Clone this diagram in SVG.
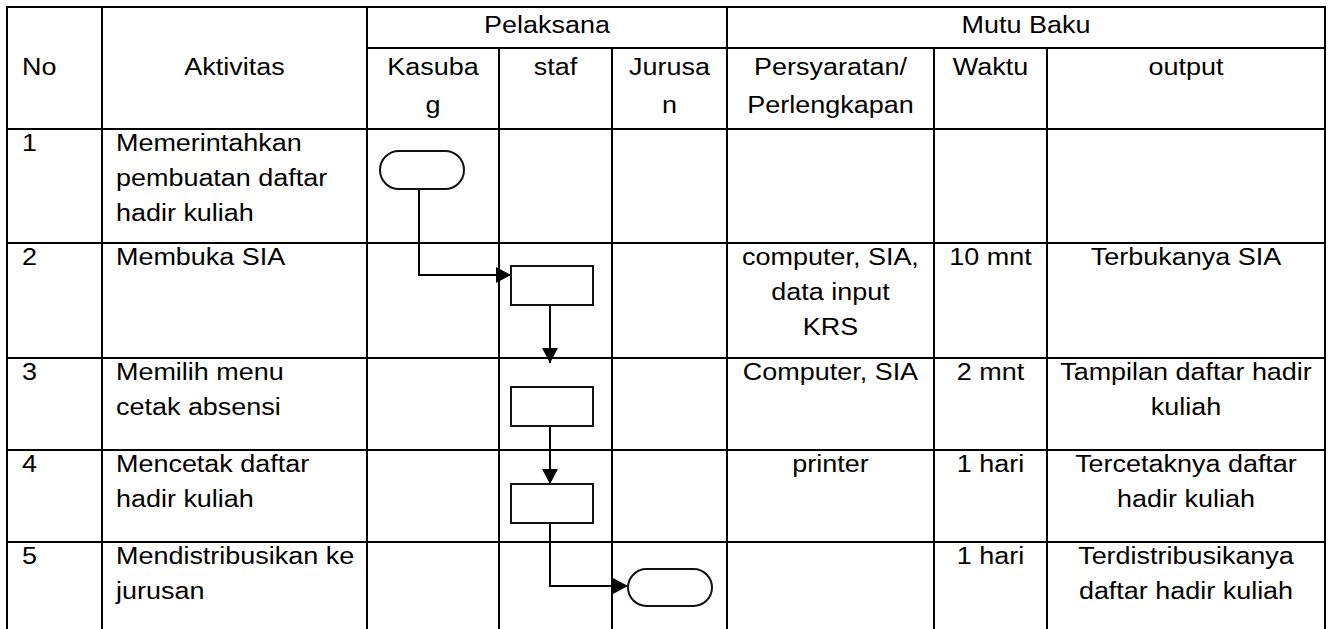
<svg xmlns="http://www.w3.org/2000/svg" width="1332" height="629" viewBox="0 0 1332 629">
<style>
.grid{stroke:#000;stroke-width:2;fill:none}
.t{font-family:"Liberation Sans",Arial,sans-serif;font-size:24.5px;fill:#000}
.c{text-anchor:middle}
.shape{fill:#fff;stroke:#111;stroke-width:2}
.conn{fill:none;stroke:#000;stroke-width:2}
</style>
<defs>
<marker id="ah" markerUnits="userSpaceOnUse" markerWidth="16" markerHeight="16" refX="15" refY="8" orient="auto">
<path d="M0,0 L15,8 L0,16 z" fill="#000"/>
</marker>
</defs>
<rect width="1332" height="629" fill="#fff"/>
<g id="table" class="grid">
<line x1="6" y1="7" x2="1326" y2="7"/>
<line x1="367" y1="48" x2="1326" y2="48"/>
<line x1="6" y1="129" x2="1326" y2="129"/>
<line x1="6" y1="243" x2="1326" y2="243"/>
<line x1="6" y1="358" x2="1326" y2="358"/>
<line x1="6" y1="450" x2="1326" y2="450"/>
<line x1="6" y1="542" x2="1326" y2="542"/>
<line x1="7" y1="6" x2="7" y2="629"/>
<line x1="102" y1="6" x2="102" y2="629"/>
<line x1="367" y1="6" x2="367" y2="629"/>
<line x1="499" y1="48" x2="499" y2="629"/>
<line x1="612" y1="48" x2="612" y2="629"/>
<line x1="727" y1="6" x2="727" y2="629"/>
<line x1="934" y1="48" x2="934" y2="629"/>
<line x1="1047" y1="48" x2="1047" y2="629"/>
<line x1="1325" y1="6" x2="1325" y2="629"/>
</g>
<g id="header" class="t" transform="scale(1.1 1)">
<text x="20" y="75">No</text>
<text class="c" x="213.18" y="75">Aktivitas</text>
<text class="c" x="497.27" y="33">Pelaksana</text>
<text class="c" x="932.73" y="33">Mutu Baku</text>
<text class="c" x="393.64" y="75">Kasuba</text>
<text class="c" x="393.64" y="113">g</text>
<text class="c" x="505" y="75">staf</text>
<text class="c" x="608.64" y="75">Jurusa</text>
<text class="c" x="608.64" y="113">n</text>
<text class="c" x="755" y="75">Persyaratan/</text>
<text class="c" x="755" y="113">Perlengkapan</text>
<text class="c" x="900.45" y="75">Waktu</text>
<text class="c" x="1078.18" y="75">output</text>
</g>
<g id="rows" class="t" transform="scale(1.1 1)">
<text x="20" y="151">1</text>
<text x="105.45" y="151">Memerintahkan</text>
<text x="105.45" y="186">pembuatan daftar</text>
<text x="105.45" y="221">hadir kuliah</text>
<text x="20" y="265">2</text>
<text x="105.45" y="265">Membuka SIA</text>
<text class="c" x="755" y="265">computer, SIA,</text>
<text class="c" x="755" y="300">data input</text>
<text class="c" x="755" y="335">KRS</text>
<text class="c" x="900.45" y="265">10 mnt</text>
<text class="c" x="1078.18" y="265">Terbukanya SIA</text>
<text x="20" y="380">3</text>
<text x="105.45" y="380">Memilih menu</text>
<text x="105.45" y="415">cetak absensi</text>
<text class="c" x="755" y="380">Computer, SIA</text>
<text class="c" x="900.45" y="380">2 mnt</text>
<text class="c" x="1078.18" y="380">Tampilan daftar hadir</text>
<text class="c" x="1078.18" y="415">kuliah</text>
<text x="20" y="472">4</text>
<text x="105.45" y="472">Mencetak daftar</text>
<text x="105.45" y="507">hadir kuliah</text>
<text class="c" x="755" y="472">printer</text>
<text class="c" x="900.45" y="472">1 hari</text>
<text class="c" x="1078.18" y="472">Tercetaknya daftar</text>
<text class="c" x="1078.18" y="507">hadir kuliah</text>
<text x="20" y="564">5</text>
<text x="105.45" y="564">Mendistribusikan ke</text>
<text x="105.45" y="599">jurusan</text>
<text class="c" x="900.45" y="564">1 hari</text>
<text class="c" x="1078.18" y="564">Terdistribusikanya</text>
<text class="c" x="1078.18" y="599">daftar hadir kuliah</text>
</g>
<g id="connectors">
<path class="conn" d="M419,189 V275 H511" marker-end="url(#ah)"/>
<path class="conn" d="M550,305 V363" marker-end="url(#ah)"/>
<path class="conn" d="M550,426 V484" marker-end="url(#ah)"/>
<path class="conn" d="M550,523 V586 H628" marker-end="url(#ah)"/>
</g>
<g id="start"><rect class="shape" x="380" y="151" width="84" height="38" rx="19"/></g>
<g id="step2"><rect class="shape" x="511" y="266" width="82" height="39"/></g>
<g id="step3"><rect class="shape" x="511" y="387" width="82" height="39"/></g>
<g id="step4"><rect class="shape" x="511" y="484" width="82" height="39"/></g>
<g id="end"><rect class="shape" x="628" y="569" width="84" height="37" rx="18.5"/></g>
</svg>
